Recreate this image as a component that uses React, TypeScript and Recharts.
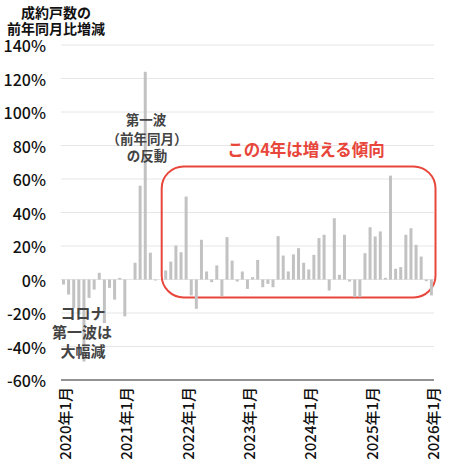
import React from 'react';
import { BarChart, Bar, XAxis, YAxis, CartesianGrid, ReferenceArea } from 'recharts';

const months = [
  '2020年1月', '2020年2月', '2020年3月', '2020年4月', '2020年5月', '2020年6月', '2020年7月', '2020年8月', '2020年9月', '2020年10月', '2020年11月', '2020年12月',
  '2021年1月', '2021年2月', '2021年3月', '2021年4月', '2021年5月', '2021年6月', '2021年7月', '2021年8月', '2021年9月', '2021年10月', '2021年11月', '2021年12月',
  '2022年1月', '2022年2月', '2022年3月', '2022年4月', '2022年5月', '2022年6月', '2022年7月', '2022年8月', '2022年9月', '2022年10月', '2022年11月', '2022年12月',
  '2023年1月', '2023年2月', '2023年3月', '2023年4月', '2023年5月', '2023年6月', '2023年7月', '2023年8月', '2023年9月', '2023年10月', '2023年11月', '2023年12月',
  '2024年1月', '2024年2月', '2024年3月', '2024年4月', '2024年5月', '2024年6月', '2024年7月', '2024年8月', '2024年9月', '2024年10月', '2024年11月', '2024年12月',
  '2025年1月', '2025年2月', '2025年3月', '2025年4月', '2025年5月', '2025年6月', '2025年7月', '2025年8月', '2025年9月', '2025年10月', '2025年11月', '2025年12月',
  '2026年1月',
];

const yoyChange = [
  -3, -9, -17, -21, -49, -11, -6, 4, -26, -5, -12, 1,
  -22, 0, 10, 56, 124, 16, -0.6, 0, 5.4, 10.7, 20.3, 16.3,
  49.5, -9.5, -17.5, 23.7, 4.8, -1.6, 8.4, -10, 25.3, 11.3, -1.2, 4.8,
  -5.6, 1.4, 11.7, -4.6, -2.6, -4.6, 25.9, 14.3, 4.8, 15, 18.7, 10,
  6, 14.7, 24.7, 26.7, -6.6, 36.6, 2.8, 26.7, -1.2, -10.5, -10.5, 15.7,
  31.2, 25.7, 28.7, 1, 62, 6.4, 7.4, 26.7, 30.6, 20.7, 13.7, -1,
  -9.5,
];

const yTicks = [-60, -40, -20, 0, 20, 40, 60, 80, 100, 120, 140];

const titleLines = ['成約戸数の', '前年同月比増減'];
const reboundNote = ['第一波', '（前年同月）', 'の反動'];
const dropNote = ['コロナ', '第一波は', '大幅減'];
const trendNote = 'この4年は増える傾向';

const data = months.map((m, i) => ({ month: m, value: yoyChange[i] }));

const FONT = '"Noto Sans CJK JP", "Noto Sans", sans-serif';
const RED = '#e8463a';

const XTick = (props: any) => {
  const { x, y, payload } = props;
  return (
    <text
      x={x + 1}
      y={y}
      transform={`rotate(-90 ${x + 1} ${y})`}
      textAnchor="end"
      dominantBaseline="central"
      fontSize={15}
      fontFamily={FONT}
      fontWeight={500}
      fill="#111"
    >
      {payload.value}
    </text>
  );
};

const YTick = (props: any) => {
  const { x, y, payload } = props;
  return (
    <text
      x={x}
      y={y}
      textAnchor="end"
      dominantBaseline="central"
      fontSize={16}
      fontFamily={FONT}
      fontWeight={500}
      fill="#111"
    >
      {payload.value}%
    </text>
  );
};

const BoxShape = (props: any) => {
  const { x, y, width, height } = props;
  return (
    <rect
      x={x - 1.5}
      y={y}
      width={width + 3}
      height={height}
      rx={22}
      ry={22}
      fill="none"
      stroke={RED}
      strokeWidth={2}
    />
  );
};

export default function App() {
  return (
    <div style={{ position: 'absolute', left: 0, top: 0, width: 450, height: 463, background: '#fff' }}>
      <BarChart
        width={450}
        height={463}
        data={data}
        margin={{ top: 45, right: 16, bottom: 0, left: 0 }}
      >
        <CartesianGrid vertical={false} stroke="#e6e6e6" />
        <XAxis
          dataKey="month"
          interval={11}
          height={83}
          tickLine={false}
          tickSize={6}
          tickMargin={1}
          axisLine={{ stroke: '#333', strokeWidth: 1 }}
          tick={<XTick />}
        />
        <YAxis
          width={61}
          domain={[-60, 140]}
          ticks={yTicks}
          axisLine={false}
          tickLine={false}
          tickSize={6}
          tickMargin={9}
          tick={<YTick />}
        />
        <Bar dataKey="value" fill="#c2c2c2" barSize={3} isAnimationActive={false} />
        <ReferenceArea
          x1={months[20]}
          x2={months[72]}
          y1={-10.7}
          y2={67.5}
          ifOverflow="visible"
          shape={<BoxShape />}
        />
      </BarChart>
      <svg
        width={450}
        height={463}
        style={{ position: 'absolute', left: 0, top: 0, pointerEvents: 'none' }}
      >
        <g fontFamily={FONT} fontWeight={700} textAnchor="middle" dominantBaseline="central">
          <text x={56} y={11.5} fontSize={14} fill="#111">{titleLines[0]}</text>
          <text x={56} y={27.5} fontSize={14} fill="#111">{titleLines[1]}</text>
          <text x={146} y={119} fontSize={13.5} fill="#444">{reboundNote[0]}</text>
          <text x={147} y={137.5} fontSize={13.5} fill="#444">{reboundNote[1]}</text>
          <text x={147} y={155} fontSize={13.5} fill="#444">{reboundNote[2]}</text>
          <text x={83} y={312} fontSize={15} fill="#444">{dropNote[0]}</text>
          <text x={82} y={331} fontSize={15} fill="#444">{dropNote[1]}</text>
          <text x={83} y={350} fontSize={15} fill="#444">{dropNote[2]}</text>
          <text x={306} y={149} fontSize={16.5} fill={RED}>{trendNote}</text>
        </g>
      </svg>
    </div>
  );
}
